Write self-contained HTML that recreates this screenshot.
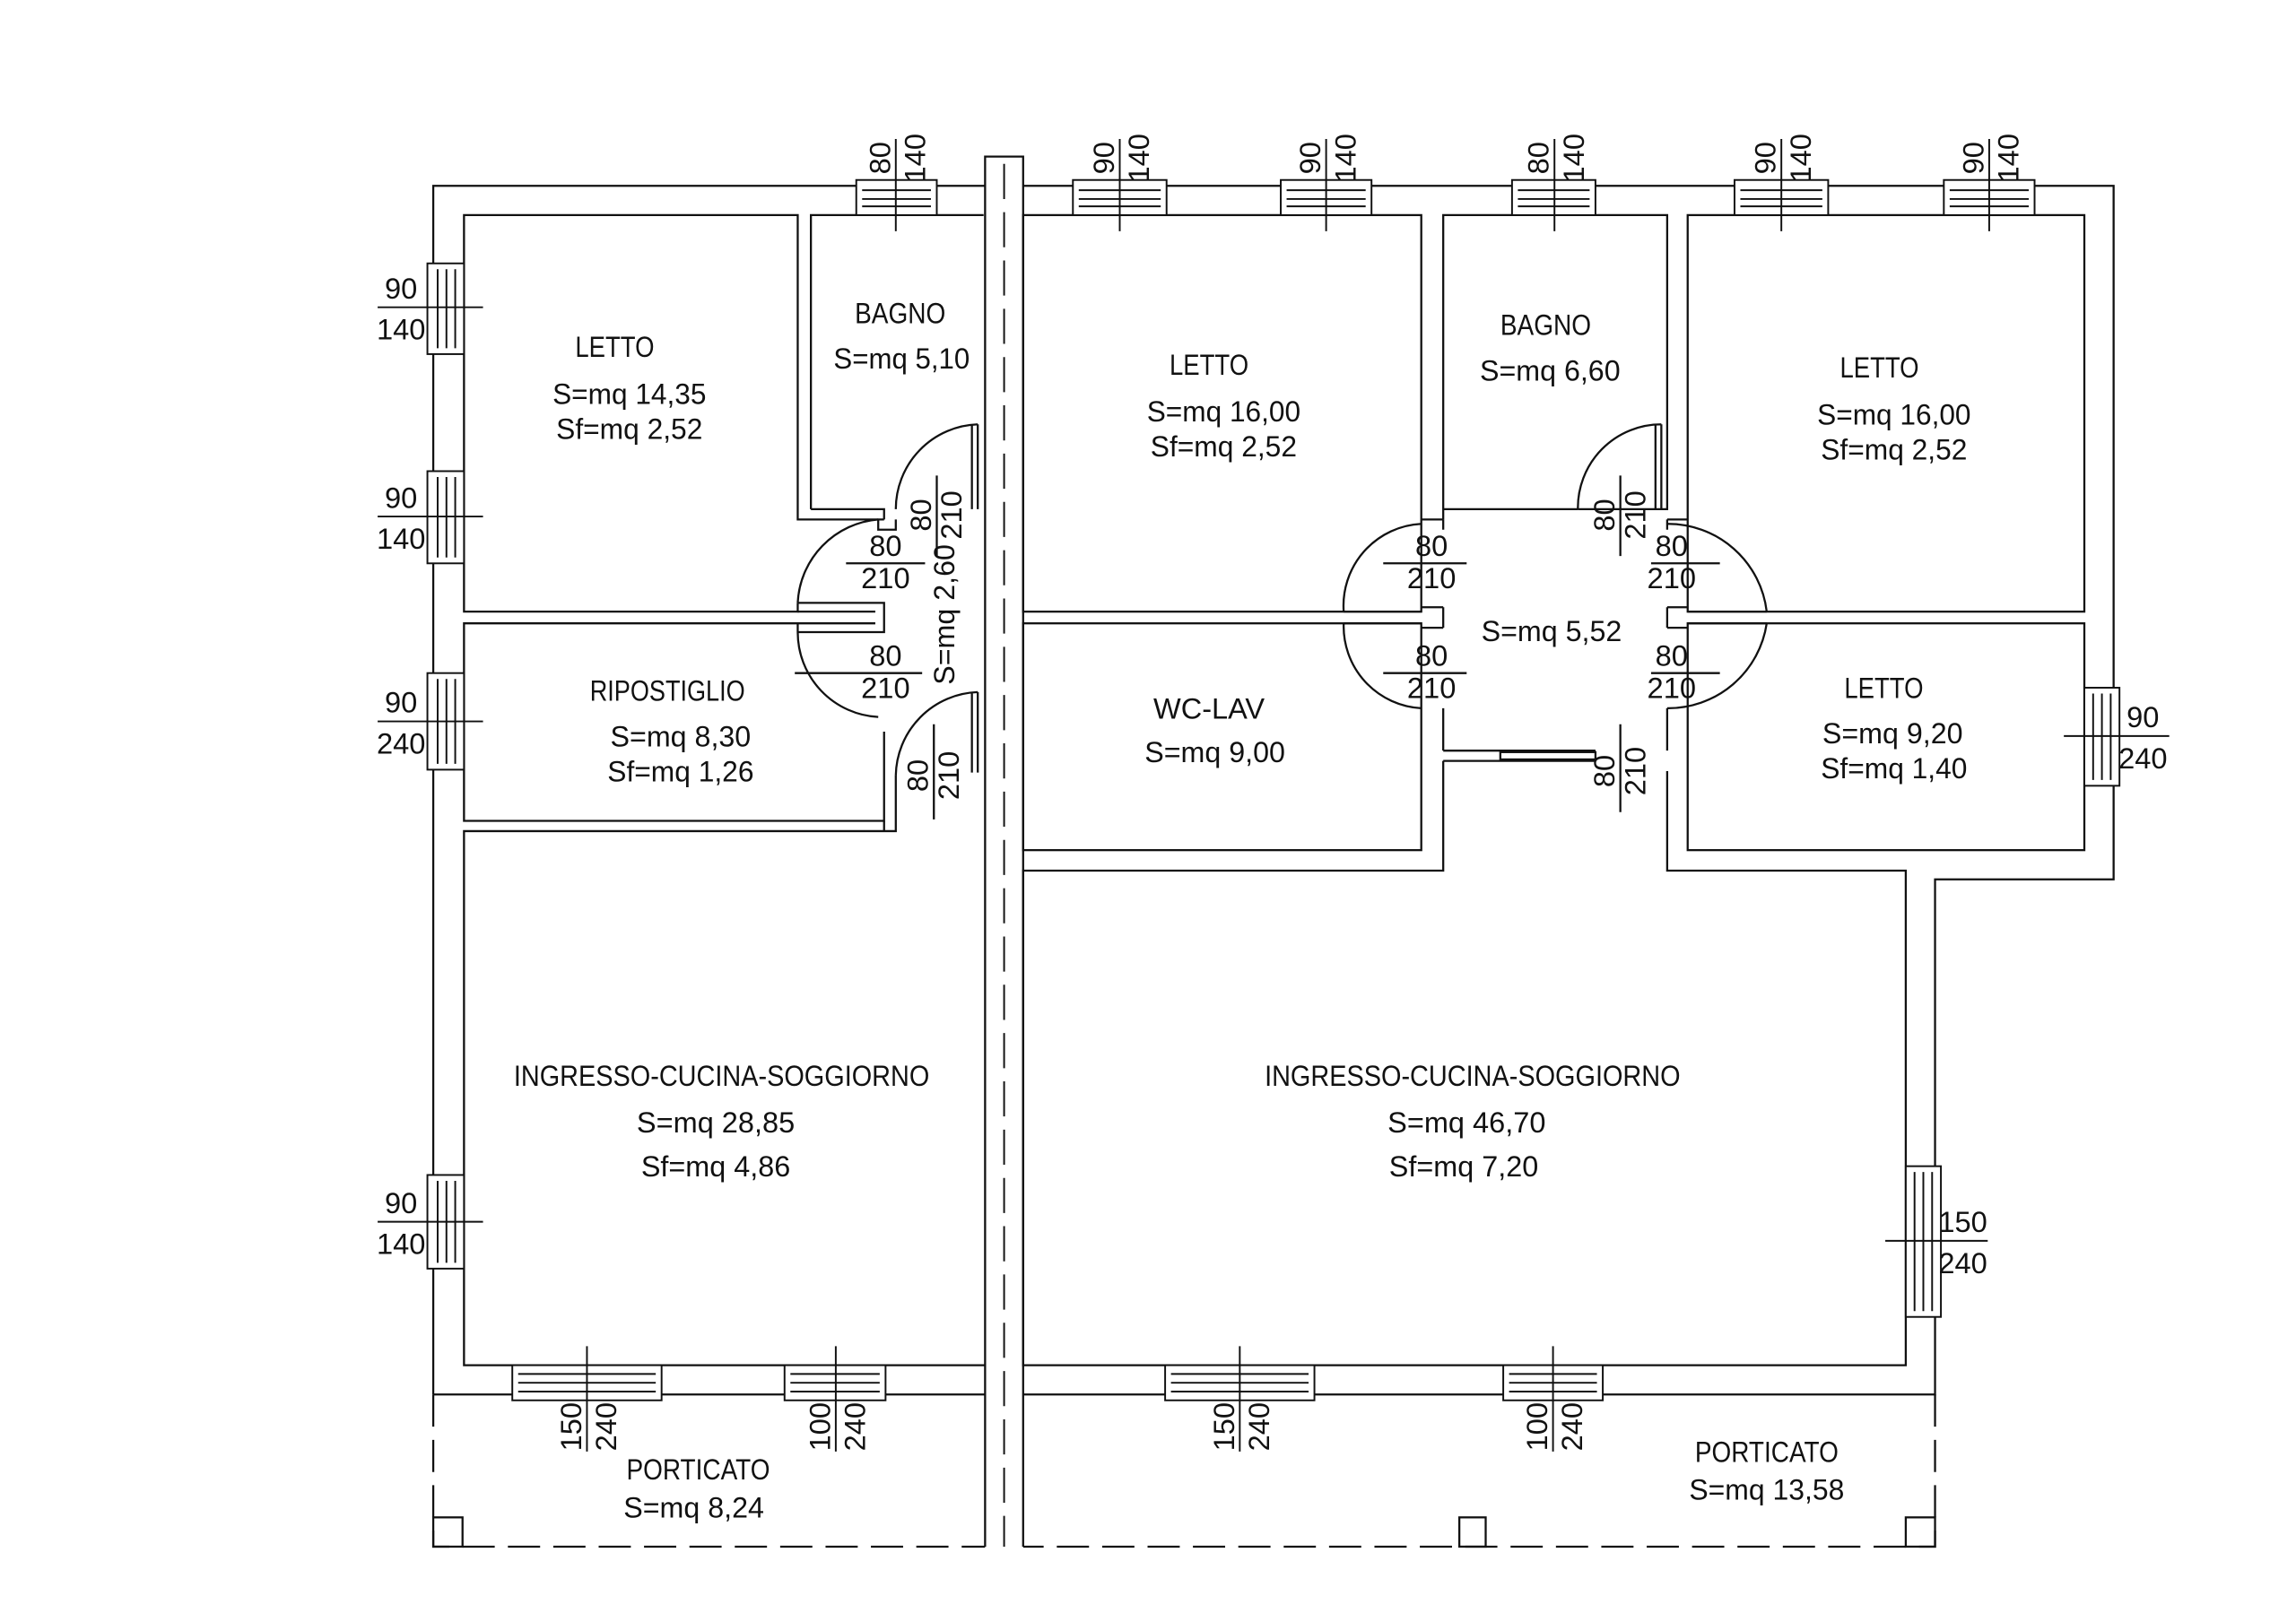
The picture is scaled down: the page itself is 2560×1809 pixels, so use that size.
<!DOCTYPE html>
<html><head><meta charset="utf-8"><style>
html,body{margin:0;padding:0;background:#fff}
svg{display:block}
text{font-family:"Liberation Sans",sans-serif;font-size:20px;fill:#111}
</style></head><body>
<svg width="2560" height="1809" viewBox="0 0 1568.6 1108.5" preserveAspectRatio="none" xmlns="http://www.w3.org/2000/svg">
<g fill="none" stroke="#111" stroke-width="1.4">
<path d="M296,953 V127 H673 M699,127 H1444 V601 H1322 V953 H699"/>
<path d="M296,953 H673"/>
<path d="M673,1057 V107 H699 V1057"/>
<path d="M686,112 V1057" stroke-dasharray="24,9" stroke-width="1.2"/>
<path d="M604,355 H545 V147 H317 V418 H545 V412"/>
<path d="M554,348 V147 H672"/>
<path d="M554,348 H604 V355"/>
<path d="M600,355 V362 H612 V355"/>
<path d="M545,432 V426 H317 V561 H604 V500"/>
<path d="M612,530 V568 H317 V933 H673"/>
<path d="M604,561 V568"/>
<rect x="699" y="147" width="272" height="271"/>
<path d="M986,355 V147 H1139 V348 H1078"/>
<path d="M1078,348 H986"/>
<rect x="1153" y="147" width="271" height="271"/>
<rect x="699" y="426" width="272" height="155"/>
<rect x="1153" y="426" width="271" height="155"/>
<path d="M971,355 H986 M1139,355 H1153"/>
<path d="M986,355 V362 M1139,355 V362"/>
<path d="M986,484 V513 M986,520 V595 H699 V933 H1302 V595 H1139 V527 M1139,484 V513"/>
<path d="M296,953 V1057 H673" stroke-dasharray="22,9"/>
<path d="M1322,953 V1057 H699" stroke-dasharray="22,9"/>
<rect x="296" y="1037" width="20" height="20"/>
<rect x="997" y="1037" width="18" height="20"/>
<rect x="1302" y="1037" width="20" height="20"/>
<path d="M545,412 A60,60 0 0 1 600,355"/>
<path d="M545,412 H604 V432 H545 M545,418 H598 M545,426 H598"/>
<path d="M545,432 A58,58 0 0 0 600,490"/>
<path d="M668,290 V348 M664,290 V348 M668,290 A58,58 0 0 0 612,348"/>
<path d="M612,530 A58,58 0 0 1 668,473 M668,473 V528 M664,473 V528"/>
<path d="M918,418 A56,56 0 0 1 971,358"/>
<path d="M918,426 A56,56 0 0 0 971,484"/>
<path d="M918,418 H971 M918,426 H971 M986,415 V429 M971,415 H986 M971,429 H986"/>
<path d="M1207,418 A68,68 0 0 0 1139,358"/>
<path d="M1207,426 A68,68 0 0 1 1139,484"/>
<path d="M1153,418 H1207 M1153,426 H1207 M1139,415 V429 M1139,415 H1153 M1139,429 H1153"/>
<path d="M1135,290 V348 M1131,290 V348 M1135,290 A57,57 0 0 0 1078,348"/>
<path d="M986,513 H1090 M986,520 H1090"/>
<rect x="1025" y="514" width="65" height="5"/>
<path d="M578,385 H632 M543,460 H630 M640,325 V380 M638,495 V560"/>
<path d="M945,385 H1002 M945,460 H1002 M1128,385 H1175 M1128,460 H1175 M1107,325 V380 M1107,495 V555"/>
</g>
<g fill="#fff" stroke="#111" stroke-width="1.2">
<rect x="585" y="123" width="55" height="24"/><path d="M589,130 H636 M589,136 H636 M589,141 H636" fill="none"/>
<rect x="733" y="123" width="64" height="24"/><path d="M737,130 H793 M737,136 H793 M737,141 H793" fill="none"/>
<rect x="875" y="123" width="62" height="24"/><path d="M879,130 H933 M879,136 H933 M879,141 H933" fill="none"/>
<rect x="1033" y="123" width="57" height="24"/><path d="M1037,130 H1086 M1037,136 H1086 M1037,141 H1086" fill="none"/>
<rect x="1185" y="123" width="64" height="24"/><path d="M1189,130 H1245 M1189,136 H1245 M1189,141 H1245" fill="none"/>
<rect x="1328" y="123" width="62" height="24"/><path d="M1332,130 H1386 M1332,136 H1386 M1332,141 H1386" fill="none"/>
<rect x="292" y="180" width="25" height="62"/><path d="M299,184 V238 M305,184 V238 M311,184 V238" fill="none"/>
<rect x="292" y="322" width="25" height="63"/><path d="M299,326 V381 M305,326 V381 M311,326 V381" fill="none"/>
<rect x="292" y="460" width="25" height="66"/><path d="M299,464 V522 M305,464 V522 M311,464 V522" fill="none"/>
<rect x="292" y="803" width="25" height="64"/><path d="M299,807 V863 M305,807 V863 M311,807 V863" fill="none"/>
<rect x="1424" y="470" width="24" height="67"/><path d="M1430,474 V533 M1436,474 V533 M1442,474 V533" fill="none"/>
<rect x="1302" y="797" width="24" height="103"/><path d="M1308,801 V896 M1314,801 V896 M1320,801 V896" fill="none"/>
<rect x="350" y="933" width="102" height="24"/><path d="M354,939 H448 M354,945 H448 M354,951 H448" fill="none"/>
<rect x="536" y="933" width="69" height="24"/><path d="M540,939 H601 M540,945 H601 M540,951 H601" fill="none"/>
<rect x="796" y="933" width="102" height="24"/><path d="M800,939 H894 M800,945 H894 M800,951 H894" fill="none"/>
<rect x="1027" y="933" width="68" height="24"/><path d="M1031,939 H1091 M1031,945 H1091 M1031,951 H1091" fill="none"/>
</g>
<g stroke="#111" stroke-width="1.2">
<path d="M612,95 V158 M765,95 V158 M906,95 V158 M1062,95 V158 M1217,95 V158 M1359,95 V158"/>
<path d="M258,210 H330 M258,353 H330 M258,493 H330 M258,835 H330"/>
<path d="M1410,503 H1482 M1288,848 H1358"/>
<path d="M401,920 V992 M571,920 V992 M847,920 V992 M1061,920 V992"/>
</g>
<g font-size="19">
<text x="608" y="108" transform="rotate(-90 608 108)" text-anchor="middle">80</text>
<text x="632" y="108" transform="rotate(-90 632 108)" text-anchor="middle">140</text>
<text x="761" y="108" transform="rotate(-90 761 108)" text-anchor="middle">90</text>
<text x="785" y="108" transform="rotate(-90 785 108)" text-anchor="middle">140</text>
<text x="902" y="108" transform="rotate(-90 902 108)" text-anchor="middle">90</text>
<text x="926" y="108" transform="rotate(-90 926 108)" text-anchor="middle">140</text>
<text x="1058" y="108" transform="rotate(-90 1058 108)" text-anchor="middle">80</text>
<text x="1082" y="108" transform="rotate(-90 1082 108)" text-anchor="middle">140</text>
<text x="1213" y="108" transform="rotate(-90 1213 108)" text-anchor="middle">90</text>
<text x="1237" y="108" transform="rotate(-90 1237 108)" text-anchor="middle">140</text>
<text x="1355" y="108" transform="rotate(-90 1355 108)" text-anchor="middle">90</text>
<text x="1379" y="108" transform="rotate(-90 1379 108)" text-anchor="middle">140</text>
<text x="274" y="204" text-anchor="middle">90</text><text x="274" y="232" text-anchor="middle">140</text>
<text x="274" y="347" text-anchor="middle">90</text><text x="274" y="375" text-anchor="middle">140</text>
<text x="274" y="487" text-anchor="middle">90</text><text x="274" y="515" text-anchor="middle">240</text>
<text x="274" y="829" text-anchor="middle">90</text><text x="274" y="857" text-anchor="middle">140</text>
<text x="1464" y="497" text-anchor="middle">90</text><text x="1464" y="525" text-anchor="middle">240</text>
<text x="1341" y="842" text-anchor="middle">150</text><text x="1341" y="870" text-anchor="middle">240</text>
<text x="397" y="975" transform="rotate(-90 397 975)" text-anchor="middle">150</text>
<text x="421" y="975" transform="rotate(-90 421 975)" text-anchor="middle">240</text>
<text x="567" y="975" transform="rotate(-90 567 975)" text-anchor="middle">100</text>
<text x="591" y="975" transform="rotate(-90 591 975)" text-anchor="middle">240</text>
<text x="843" y="975" transform="rotate(-90 843 975)" text-anchor="middle">150</text>
<text x="867" y="975" transform="rotate(-90 867 975)" text-anchor="middle">240</text>
<text x="1057" y="975" transform="rotate(-90 1057 975)" text-anchor="middle">100</text>
<text x="1081" y="975" transform="rotate(-90 1081 975)" text-anchor="middle">240</text>
<text x="605" y="380" text-anchor="middle">80</text><text x="605" y="402" text-anchor="middle">210</text>
<text x="605" y="455" text-anchor="middle">80</text><text x="605" y="477" text-anchor="middle">210</text>
<text x="636" y="352" transform="rotate(-90 636 352)" text-anchor="middle">80</text>
<text x="657" y="352" transform="rotate(-90 657 352)" text-anchor="middle">210</text>
<text x="634" y="530" transform="rotate(-90 634 530)" text-anchor="middle">80</text>
<text x="655" y="530" transform="rotate(-90 655 530)" text-anchor="middle">210</text>
<text x="978" y="380" text-anchor="middle">80</text><text x="978" y="402" text-anchor="middle">210</text>
<text x="978" y="455" text-anchor="middle">80</text><text x="978" y="477" text-anchor="middle">210</text>
<text x="1142" y="380" text-anchor="middle">80</text><text x="1142" y="402" text-anchor="middle">210</text>
<text x="1142" y="455" text-anchor="middle">80</text><text x="1142" y="477" text-anchor="middle">210</text>
<text x="1103" y="352" transform="rotate(-90 1103 352)" text-anchor="middle">80</text>
<text x="1124" y="352" transform="rotate(-90 1124 352)" text-anchor="middle">210</text>
<text x="1103" y="527" transform="rotate(-90 1103 527)" text-anchor="middle">80</text>
<text x="1124" y="527" transform="rotate(-90 1124 527)" text-anchor="middle">210</text>
</g>
<g font-size="21" text-anchor="middle">
<text x="420" y="244" textLength="54" lengthAdjust="spacingAndGlyphs">LETTO</text>
<text x="430" y="276" textLength="105" lengthAdjust="spacingAndGlyphs">S=mq 14,35</text>
<text x="430" y="300" textLength="100" lengthAdjust="spacingAndGlyphs">Sf=mq 2,52</text>
<text x="615" y="221" textLength="62" lengthAdjust="spacingAndGlyphs">BAGNO</text>
<text x="616" y="252" textLength="93" lengthAdjust="spacingAndGlyphs">S=mq 5,10</text>
<text x="826" y="256" textLength="54" lengthAdjust="spacingAndGlyphs">LETTO</text>
<text x="836" y="288" textLength="105" lengthAdjust="spacingAndGlyphs">S=mq 16,00</text>
<text x="836" y="312" textLength="100" lengthAdjust="spacingAndGlyphs">Sf=mq 2,52</text>
<text x="1056" y="229" textLength="62" lengthAdjust="spacingAndGlyphs">BAGNO</text>
<text x="1059" y="260" textLength="96" lengthAdjust="spacingAndGlyphs">S=mq 6,60</text>
<text x="1284" y="258" textLength="54" lengthAdjust="spacingAndGlyphs">LETTO</text>
<text x="1294" y="290" textLength="105" lengthAdjust="spacingAndGlyphs">S=mq 16,00</text>
<text x="1294" y="314" textLength="100" lengthAdjust="spacingAndGlyphs">Sf=mq 2,52</text>
<text x="456" y="479" textLength="106" lengthAdjust="spacingAndGlyphs">RIPOSTIGLIO</text>
<text x="465" y="510" textLength="96" lengthAdjust="spacingAndGlyphs">S=mq 8,30</text>
<text x="465" y="534" textLength="100" lengthAdjust="spacingAndGlyphs">Sf=mq 1,26</text>
<text x="826" y="491" textLength="76" lengthAdjust="spacingAndGlyphs">WC-LAV</text>
<text x="830" y="521" textLength="96" lengthAdjust="spacingAndGlyphs">S=mq 9,00</text>
<text x="1287" y="477" textLength="54" lengthAdjust="spacingAndGlyphs">LETTO</text>
<text x="1293" y="508" textLength="96" lengthAdjust="spacingAndGlyphs">S=mq 9,20</text>
<text x="1294" y="532" textLength="100" lengthAdjust="spacingAndGlyphs">Sf=mq 1,40</text>
<text x="1060" y="438" textLength="96" lengthAdjust="spacingAndGlyphs">S=mq 5,52</text>
<text x="652" y="420" transform="rotate(-90 652 420)" textLength="96" lengthAdjust="spacingAndGlyphs">S=mq 2,60</text>
<text x="493" y="742" textLength="284" lengthAdjust="spacingAndGlyphs">INGRESSO-CUCINA-SOGGIORNO</text>
<text x="489" y="774" textLength="108" lengthAdjust="spacingAndGlyphs">S=mq 28,85</text>
<text x="489" y="804" textLength="102" lengthAdjust="spacingAndGlyphs">Sf=mq 4,86</text>
<text x="1006" y="742" textLength="284" lengthAdjust="spacingAndGlyphs">INGRESSO-CUCINA-SOGGIORNO</text>
<text x="1002" y="774" textLength="108" lengthAdjust="spacingAndGlyphs">S=mq 46,70</text>
<text x="1000" y="804" textLength="102" lengthAdjust="spacingAndGlyphs">Sf=mq 7,20</text>
<text x="477" y="1011" textLength="98" lengthAdjust="spacingAndGlyphs">PORTICATO</text>
<text x="474" y="1037" textLength="96" lengthAdjust="spacingAndGlyphs">S=mq 8,24</text>
<text x="1207" y="999" textLength="98" lengthAdjust="spacingAndGlyphs">PORTICATO</text>
<text x="1207" y="1025" textLength="106" lengthAdjust="spacingAndGlyphs">S=mq 13,58</text>
</g>
</svg>
</body></html>
